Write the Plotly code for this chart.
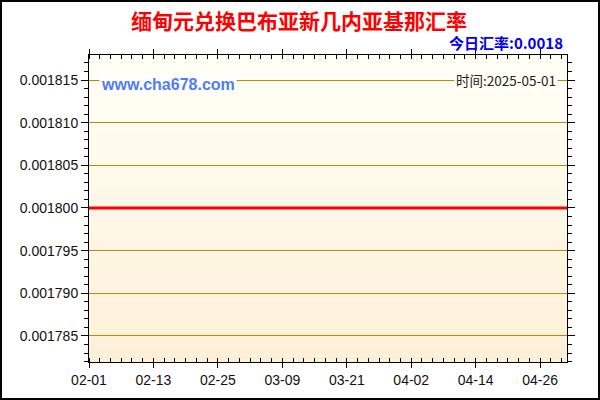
import plotly.graph_objects as go
import pandas as pd

dates = pd.date_range("2025-02-01", "2025-05-01", freq="D")
rates = [
    0.0018, 0.0018, 0.0018, 0.0018, 0.0018, 0.0018, 0.0018, 0.0018, 0.0018, 0.0018,
    0.0018, 0.0018, 0.0018, 0.0018, 0.0018, 0.0018, 0.0018, 0.0018, 0.0018, 0.0018,
    0.0018, 0.0018, 0.0018, 0.0018, 0.0018, 0.0018, 0.0018, 0.0018, 0.0018, 0.0018,
    0.0018, 0.0018, 0.0018, 0.0018, 0.0018, 0.0018, 0.0018, 0.0018, 0.0018, 0.0018,
    0.0018, 0.0018, 0.0018, 0.0018, 0.0018, 0.0018, 0.0018, 0.0018, 0.0018, 0.0018,
    0.0018, 0.0018, 0.0018, 0.0018, 0.0018, 0.0018, 0.0018, 0.0018, 0.0018, 0.0018,
    0.0018, 0.0018, 0.0018, 0.0018, 0.0018, 0.0018, 0.0018, 0.0018, 0.0018, 0.0018,
    0.0018, 0.0018, 0.0018, 0.0018, 0.0018, 0.0018, 0.0018, 0.0018, 0.0018, 0.0018,
    0.0018, 0.0018, 0.0018, 0.0018, 0.0018, 0.0018, 0.0018, 0.0018, 0.0018, 0.0018,
]
title_text = "缅甸元兑换巴布亚新几内亚基那汇率"
today_text = "今日汇率:0.0018"
site_text = "www.cha678.com"
time_text = "时间:2025-05-01"

cjk = "Noto Sans CJK SC"
W, H = 600, 400
L, R, T, B = 89, 33, 55, 38
pw, ph = W - L - R, H - T - B

fig = go.Figure()
fig.add_trace(go.Scatter(x=dates, y=rates, mode="lines",
                         line=dict(color="#ff0000", width=3),
                         showlegend=False, hoverinfo="skip"))

# gradient background in horizontal bands
shapes = []
n = 40
top_c = (255, 255, 246)
bot_c = (253, 240, 215)
for i in range(n):
    f = i / (n - 1)
    c = tuple(round(top_c[k] + (bot_c[k] - top_c[k]) * f) for k in range(3))
    shapes.append(dict(type="rect", xref="paper", yref="paper",
                       x0=0, x1=1, y0=1 - (i + 1) / n, y1=1 - i / n,
                       fillcolor="rgb(%d,%d,%d)" % c, line=dict(width=0),
                       layer="below"))
# outer border
shapes.append(dict(type="rect", xref="paper", yref="paper",
                   x0=-(L - 1) / pw, x1=(W - L - 1) / pw,
                   y0=-(B - 1) / ph, y1=(H - B - 1) / ph,
                   line=dict(color="black", width=2), layer="above"))

fig.update_layout(
    width=W, height=H,
    margin=dict(l=L, r=R, t=T, b=B),
    paper_bgcolor="white",
    plot_bgcolor="rgba(0,0,0,0)",
    shapes=shapes,
    font=dict(family="Liberation Sans, Arial", size=14, color="#111"),
    xaxis=dict(
        range=["2025-02-01", "2025-05-01"],
        tick0="2025-02-01", dtick=12 * 86400000, tickformat="%m-%d",
        ticks="outside", ticklen=5, tickcolor="black",
        showline=True, linecolor="black", linewidth=1, mirror="allticks",
        showgrid=False, zeroline=False,
        minor=dict(dtick=2 * 86400000, tick0="2025-02-01", ticks="inside",
                   ticklen=4, tickcolor="black", showgrid=False),
    ),
    yaxis=dict(
        range=[0.00178195, 0.00181793],
        tick0=0.001785, dtick=0.000005, tickformat=".6f",
        ticks="outside", ticklen=7, tickcolor="black",
        showline=True, linecolor="black", linewidth=1, mirror="allticks",
        showgrid=True, gridcolor="#c08a00", gridwidth=1, zeroline=False,
        minor=dict(dtick=0.000001, ticks="outside", ticklen=4,
                   tickcolor="black", showgrid=False),
    ),
    annotations=[
        dict(text="<b>%s</b>" % title_text, xref="paper", yref="paper",
             x=(299 - L) / pw, y=(H - B - 20) / ph, xanchor="center", yanchor="middle",
             showarrow=False, font=dict(family=cjk, size=21, color="#ff0000")),
        dict(text="<b>%s</b>" % today_text, xref="paper", yref="paper",
             x=(565 - L) / pw, y=(H - B - 43) / ph, xanchor="right", yanchor="middle",
             showarrow=False, font=dict(family=cjk, size=15, color="#0000ee")),
        dict(text="<b>%s</b>" % site_text, xref="paper", yref="paper",
             x=(99 - L) / pw, y=(H - B - 84) / ph, xanchor="left", yanchor="middle",
             showarrow=False, bgcolor="white",
             font=dict(family="Liberation Sans, Arial", size=16, color="#4f7cf7")),
        dict(text=time_text, xref="paper", yref="paper",
             x=(558 - L) / pw, y=(H - B - 80) / ph, xanchor="right", yanchor="middle",
             showarrow=False, bgcolor="#fffff6",
             font=dict(family=cjk, size=13.5, color="#222")),
    ],
)

fig.write_html("out.html", config={"displayModeBar": False},
               post_script="document.body.style.margin='0';")
